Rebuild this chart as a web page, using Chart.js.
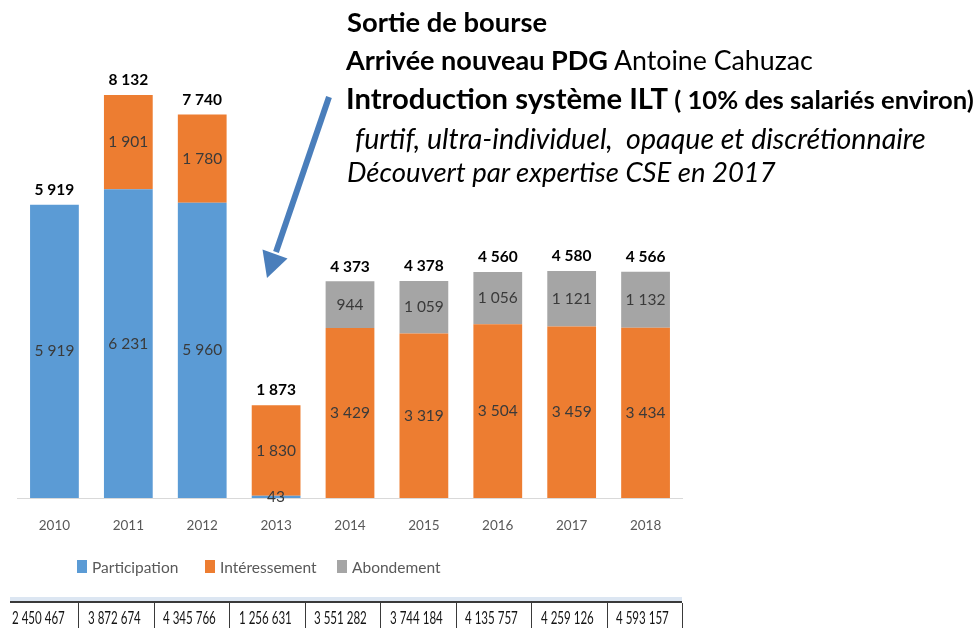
<!DOCTYPE html>
<html>
<head>
<meta charset="utf-8">
<script src="https://cdn.jsdelivr.net/npm/chart.js@4.4.1/dist/chart.umd.min.js"></script>
<style>
  body { margin: 0; background: #fff; width: 976px; height: 628px; overflow: hidden; position: relative; font-family: Lato, sans-serif; }
  #wrap { position: absolute; left: 0; top: 0; width: 976px; height: 540px; }
  .note { position: absolute; white-space: pre; color: #000; line-height: 1.2; transform: translateY(-50%); }
  .legend { position: absolute; top: 567px; transform: translateY(-50%); font-size: 15.5px; color: #595959; white-space: nowrap; }
  .legend i { position: absolute; width: 10px; height: 13px; top: 50%; margin-top: -7px; }
  .band { position: absolute; left: 10px; width: 672px; top: 597px; height: 4px; background: #dce6f2; }
  .rule { position: absolute; left: 10px; width: 672px; top: 601px; height: 2px; background: #3a3a3a; }
  .sep { position: absolute; top: 603px; width: 1px; height: 25px; background: #3a3a3a; }
  .cell { position: absolute; top: 618px; transform: translateY(-50%) scaleX(0.7); transform-origin: left center; font-size: 16.5px; color: #141414; white-space: nowrap; }
</style>
</head>
<body>
<div id="wrap"><canvas id="chart" width="976" height="540"></canvas></div>

<svg width="976" height="628" style="position:absolute;left:0;top:0">
  <line x1="329" y1="97" x2="276" y2="252" stroke="#4a7ebb" stroke-width="6"/>
  <polygon points="267,278 262.5,249.5 287.5,258.5" fill="#4a7ebb"/>
</svg>

<div class="note" style="left:347px;top:21.5px"><b data-w="200" style="font-size:24px">Sortie de bourse</b></div>
<div class="note" style="left:346px;top:59.5px"><b data-w="262" style="font-size:24px">Arrivée nouveau PDG</b><span data-w="205" style="font-size:24px"> Antoine Cahuzac</span></div>
<div class="note" style="left:346px;top:98px"><b data-w="322" style="font-size:28px">Introduction système ILT</b><b data-w="306" style="font-size:20px"> ( 10% des salariés environ)</b></div>
<div class="note" style="left:355px;top:137.5px"><i data-w="571" style="font-size:24px">furtif, ultra-individuel,  opaque et discrétionnaire</i></div>
<div class="note" style="left:347px;top:172px"><i data-w="429" style="font-size:24px">Découvert par expertise CSE en 2017</i></div>

<div id="legend"></div>
<div id="table"></div>

<script>
const years = ['2010', '2011', '2012', '2013', '2014', '2015', '2016', '2017', '2018'];
const participation = [5919, 6231, 5960, 43, 0, 0, 0, 0, 0];
const interessement = [0, 1901, 1780, 1830, 3429, 3319, 3504, 3459, 3434];
const abondement = [0, 0, 0, 0, 944, 1059, 1056, 1121, 1132];
const masseSalariale = [2450467, 3872674, 4345766, 1256631, 3551282, 3744184, 4135757, 4259126, 4593157];

const seriesNames = ['Participation', 'Intéressement', 'Abondement'];
const seriesColors = ['#5b9bd5', '#ed7d31', '#a5a5a5'];

const totals = years.map((y, i) => participation[i] + interessement[i] + abondement[i]);

function fmt(v) {
    return String(v).replace(/\B(?=(\d{3})+(?!\d))/g, ' ');
}

// labels inside the bars and totals on top
const valueLabels = {
    id: 'valueLabels',
    afterDatasetsDraw(chart) {
        const ctx = chart.ctx;
        ctx.save();
        ctx.textAlign = 'center';
        ctx.textBaseline = 'middle';
        ctx.font = '15.5px Lato';
        ctx.fillStyle = '#3a3a3a';
        chart.data.datasets.forEach((ds, i) => {
            chart.getDatasetMeta(i).data.forEach((bar, j) => {
                const v = ds.data[j];
                if (!v) return;
                ctx.fillText(fmt(v), bar.x, (bar.y + bar.base) / 2);
            });
        });
        ctx.font = 'bold 15.5px Lato';
        ctx.fillStyle = '#000';
        ctx.textBaseline = 'bottom';
        totals.forEach((t, j) => {
            const x = chart.scales.x.getPixelForValue(j);
            ctx.fillText(fmt(t), x, chart.scales.y.getPixelForValue(t) - 7);
        });
        ctx.restore();
    }
};

const ctx = document.getElementById('chart').getContext('2d');
const myChart = new Chart(ctx, {
    type: 'bar',
    data: {
        labels: years,
        datasets: [participation, interessement, abondement].map((d, i) => ({
            label: seriesNames[i],
            data: d,
            backgroundColor: seriesColors[i],
            borderWidth: 0,
            barPercentage: 0.66,
            categoryPercentage: 1
        }))
    },
    options: {
        responsive: false,
        animation: false,
        layout: { padding: { left: 17.5, right: 293.5, top: 52, bottom: 2 } },
        plugins: { legend: { display: false }, tooltip: { enabled: false } },
        scales: {
            x: {
                stacked: true,
                grid: { display: false, drawTicks: false },
                border: { display: true, color: '#d9d9d9', width: 1 },
                ticks: { color: '#595959', font: { family: 'Lato', size: 13.5 }, padding: 19.5 },
                afterFit: s => { s.height = 40; }
            },
            y: { stacked: true, display: false, min: 0, max: 9000 }
        }
    },
    plugins: [valueLabels]
});

// legend
const legendLefts = [77, 205, 337];
const legend = document.getElementById('legend');
seriesNames.forEach((name, i) => {
    const el = document.createElement('div');
    el.className = 'legend';
    el.style.left = legendLefts[i] + 'px';
    el.innerHTML = '<i style="left:0;background:' + seriesColors[i] + '"></i><span style="padding-left:15px">' + name + '</span>';
    legend.appendChild(el);
});

// table of amounts under the chart
const table = document.getElementById('table');
table.innerHTML = '<div class="band"></div><div class="rule"></div>';
masseSalariale.forEach((v, i) => {
    const left = 2.6 + 75.5 * i;
    if (i > 0) table.innerHTML += '<div class="sep" style="left:' + left.toFixed(1) + 'px"></div>';
    table.innerHTML += '<div class="cell" style="left:' + (left + 9.5).toFixed(1) + 'px">' + fmt(v) + '</div>';
});
table.innerHTML += '<div class="sep" style="left:682px"></div>';

// fit annotation text to the measured widths
document.querySelectorAll('[data-w]').forEach(el => {
    const w = el.getBoundingClientRect().width;
    const size = parseFloat(el.style.fontSize);
    el.style.fontSize = (size * Number(el.dataset.w) / w).toFixed(2) + 'px';
});
</script>
</body>
</html>
